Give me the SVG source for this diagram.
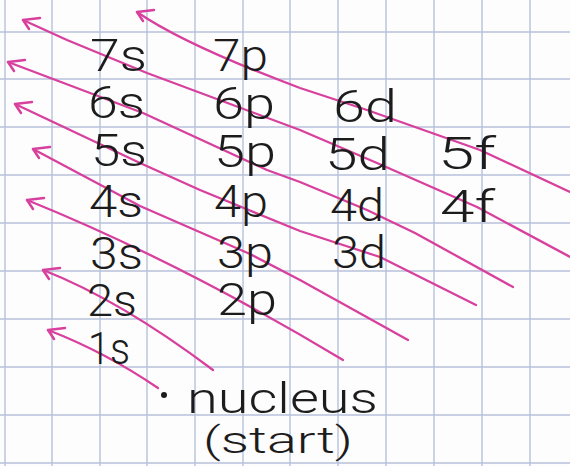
<svg xmlns="http://www.w3.org/2000/svg" width="570" height="466" viewBox="0 0 570 466">
<style>
.grid line{stroke:#b7c1da;stroke-width:1.4}
.arr{fill:none;stroke:#d8409d;stroke-width:2.3;stroke-linecap:round;stroke-linejoin:round;marker-start:url(#tip)}
.lbl{font-family:Roboto,"Open Sans","Liberation Sans",sans-serif;font-weight:300;font-size:44px;fill:#1c1c1c}
.note{font-family:Roboto,"Open Sans","Liberation Sans",sans-serif;font-weight:300;fill:#1c1c1c}
</style>
<defs>
<marker id="tip" orient="0" markerUnits="userSpaceOnUse" refX="0" refY="0" markerWidth="30" markerHeight="30" overflow="visible">
<path d="M17,-2 L0,0 L6,9" fill="none" stroke="#d8409d" stroke-width="2.5" stroke-linecap="round" stroke-linejoin="round"/>
</marker>
</defs>
<rect width="570" height="466" fill="#fdfdfe"/>
<g class="grid">
<line x1="5" y1="0" x2="5" y2="466"/>
<line x1="52" y1="0" x2="52" y2="466"/>
<line x1="100" y1="0" x2="100" y2="466"/>
<line x1="147" y1="0" x2="147" y2="466"/>
<line x1="195" y1="0" x2="195" y2="466"/>
<line x1="243" y1="0" x2="243" y2="466"/>
<line x1="290" y1="0" x2="290" y2="466"/>
<line x1="338" y1="0" x2="338" y2="466"/>
<line x1="386" y1="0" x2="386" y2="466"/>
<line x1="434" y1="0" x2="434" y2="466"/>
<line x1="482" y1="0" x2="482" y2="466"/>
<line x1="530" y1="0" x2="530" y2="466"/>
<line x1="0" y1="32" x2="570" y2="32"/>
<line x1="0" y1="79" x2="570" y2="79"/>
<line x1="0" y1="127" x2="570" y2="127"/>
<line x1="0" y1="175" x2="570" y2="175"/>
<line x1="0" y1="223" x2="570" y2="223"/>
<line x1="0" y1="271" x2="570" y2="271"/>
<line x1="0" y1="319" x2="570" y2="319"/>
<line x1="0" y1="367" x2="570" y2="367"/>
<line x1="0" y1="415" x2="570" y2="415"/>
<line x1="0" y1="463" x2="570" y2="463"/>
</g>
<g id="connectors">
<path class="arr" d="M137,12 Q185,45 300,88 L367,110 L480,150 L572,193"/>
<path class="arr" d="M23,20 L67,40 L147,73 L300,130 L377,163 L477,207 L572,258"/>
<path class="arr" d="M8,62 L143,113 L267,170 L300,182 L367,210 L415,233 L513,287"/>
<path class="arr" d="M15,104 L140,163 L200,190 L300,231 L380,257 L476,305"/>
<path class="arr" d="M33,149 L110,190 L140,206 L250,254 L300,280 L408,340"/>
<path class="arr" d="M27,200 Q180,262 343,360"/>
<path class="arr" d="M43,270 Q120,300 213,370"/>
<path class="arr" d="M48,330 Q105,352 158,388"/>
</g>
<g id="n7s"><text class="lbl" x="90" y="71" textLength="57" lengthAdjust="spacingAndGlyphs">7s</text></g>
<g id="n6s"><text class="lbl" x="88" y="118" textLength="57" lengthAdjust="spacingAndGlyphs">6s</text></g>
<g id="n5s"><text class="lbl" x="91" y="166" textLength="56" lengthAdjust="spacingAndGlyphs">5s</text></g>
<g id="n4s"><text class="lbl" x="89" y="217" textLength="54" lengthAdjust="spacingAndGlyphs">4s</text></g>
<g id="n3s"><text class="lbl" x="90" y="269" textLength="53" lengthAdjust="spacingAndGlyphs">3s</text></g>
<g id="n2s"><text class="lbl" x="87" y="316" textLength="50" lengthAdjust="spacingAndGlyphs">2s</text></g>
<g id="n1s"><text class="lbl" x="88" y="364" textLength="42" lengthAdjust="spacingAndGlyphs">1s</text></g>
<g id="n7p"><text class="lbl" x="213" y="71" textLength="55" lengthAdjust="spacingAndGlyphs">7p</text></g>
<g id="n6p"><text class="lbl" x="213" y="119" textLength="62" lengthAdjust="spacingAndGlyphs">6p</text></g>
<g id="n5p"><text class="lbl" x="214" y="167" textLength="62" lengthAdjust="spacingAndGlyphs">5p</text></g>
<g id="n4p"><text class="lbl" x="214" y="217" textLength="54" lengthAdjust="spacingAndGlyphs">4p</text></g>
<g id="n3p"><text class="lbl" x="217" y="268" textLength="56" lengthAdjust="spacingAndGlyphs">3p</text></g>
<g id="n2p"><text class="lbl" x="217" y="315" textLength="60" lengthAdjust="spacingAndGlyphs">2p</text></g>
<g id="n6d"><text class="lbl" x="333" y="122" textLength="64" lengthAdjust="spacingAndGlyphs">6d</text></g>
<g id="n5d"><text class="lbl" x="325" y="170" textLength="65" lengthAdjust="spacingAndGlyphs">5d</text></g>
<g id="n4d"><text class="lbl" x="330" y="221" textLength="54" lengthAdjust="spacingAndGlyphs">4d</text></g>
<g id="n3d"><text class="lbl" x="332" y="268" textLength="54" lengthAdjust="spacingAndGlyphs">3d</text></g>
<g id="n5f"><text class="lbl" x="438" y="169" textLength="58" lengthAdjust="spacingAndGlyphs">5f</text></g>
<g id="n4f"><text class="lbl" x="440" y="222" textLength="55" lengthAdjust="spacingAndGlyphs">4f</text></g>
<g id="nucleus">
<circle cx="164" cy="395" r="3" fill="#1c1c1c"/>
<text class="note" x="187" y="413" font-size="42" textLength="191" lengthAdjust="spacingAndGlyphs">nucleus</text>
<text class="note" x="203" y="453" font-size="36" textLength="150" lengthAdjust="spacingAndGlyphs">(start)</text>
</g>
</svg>
